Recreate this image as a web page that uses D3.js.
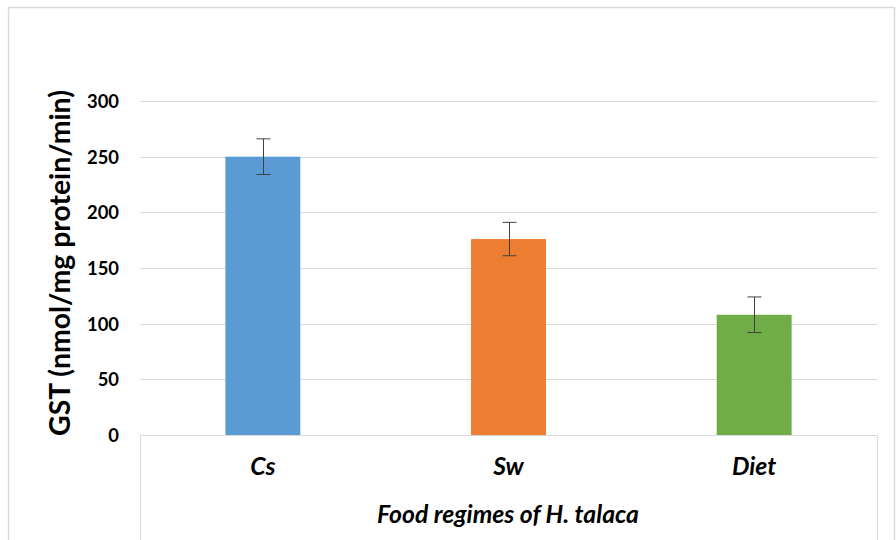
<!DOCTYPE html>
<html><head><meta charset="utf-8">
<script src="https://cdn.jsdelivr.net/npm/d3@7"></script>
<style>body{margin:0;background:#fff}svg{display:block}</style>
</head><body>
<svg id="c" width="896" height="540"></svg>
<script>
const categories = ["Cs", "Sw", "Diet"];
const values = [250, 176, 108];
const errors = [16, 15, 16];
const colors = ["#5B9BD5", "#ED7D31", "#70AD47"];
const yTicks = [0, 50, 100, 150, 200, 250, 300];
const yTitle = "GST (nmol/mg protein/min)";
const xTitle = "Food regimes of H. talaca";

const svg = d3.select("#c");
const font = "Lato, 'Open Sans', sans-serif";
const L = 140, R = 877, T = 101, B = 435;

function fit(sel, target) {
  const fs = parseFloat(sel.attr("font-size"));
  const w = sel.node().getComputedTextLength();
  const nf = fs * target / w;
  sel.attr("font-size", nf);
  return nf;
}

// outer border
svg.append("rect").attr("x", 8.5).attr("y", 7.5).attr("width", 886).attr("height", 540)
  .attr("fill", "#fff").attr("stroke", "#d9d9d9").attr("stroke-width", 1.5);

const x = d3.scaleBand().domain(categories).range([L, R]).paddingInner(0.695).paddingOuter(0.3475);
const y = d3.scaleLinear().domain([0, 300]).range([B, T]);

// gridlines
svg.append("g").selectAll("line").data(yTicks.filter(d => d > 0)).join("line")
  .attr("x1", L).attr("x2", R).attr("y1", d => Math.round(y(d)) + 0.5).attr("y2", d => Math.round(y(d)) + 0.5)
  .attr("stroke", "#d9d9d9").attr("stroke-width", 1);

// bottom box
svg.append("path").attr("d", `M${L + 0.5},540V${B + 0.5}H${R + 0.5}V540`)
  .attr("fill", "none").attr("stroke", "#d9d9d9").attr("stroke-width", 1);

// y axis labels
const probe = svg.append("text").attr("font-family", font).attr("font-weight", "bold").attr("font-size", 20).text("300");
const tickFs = fit(probe, 32);
probe.remove();
const yAxis = d3.axisLeft(y).tickValues(yTicks).tickSize(0).tickPadding(0);
const ga = svg.append("g").attr("transform", `translate(119,0)`).call(yAxis);
ga.select(".domain").remove();
ga.selectAll("text").attr("font-family", font).attr("font-weight", "bold").attr("font-size", tickFs).attr("fill", "#000").attr("dy", "0.36em");

// bars
svg.append("g").selectAll("rect").data(categories).join("rect")
  .attr("x", d => x(d)).attr("width", x.bandwidth())
  .attr("y", (d, i) => y(values[i])).attr("height", (d, i) => y(0) - y(values[i]))
  .attr("fill", (d, i) => colors[i]);

// error bars
const eg = svg.append("g").attr("stroke", "#404040").attr("stroke-width", 1);
categories.forEach((c, i) => {
  const cx = Math.round(x(c) + x.bandwidth() / 2) + 0.5;
  const y1 = y(values[i] + errors[i]), y2 = y(values[i] - errors[i]);
  eg.append("line").attr("x1", cx).attr("x2", cx).attr("y1", y1).attr("y2", y2);
  eg.append("line").attr("x1", cx - 7).attr("x2", cx + 7).attr("y1", y1).attr("y2", y1);
  eg.append("line").attr("x1", cx - 7).attr("x2", cx + 7).attr("y1", y2).attr("y2", y2);
});

// x title
const xt = svg.append("text").attr("x", 508).attr("y", 523).attr("text-anchor", "middle")
  .attr("font-family", font).attr("font-weight", "bold").attr("font-style", "italic")
  .attr("font-size", 20).text(xTitle);
const xFs = fit(xt, 262);

// x category labels
svg.append("g").selectAll("text").data(categories).join("text")
  .attr("x", d => x(d) + x.bandwidth() / 2).attr("y", 475)
  .attr("text-anchor", "middle").attr("font-family", font).attr("font-weight", "bold")
  .attr("font-style", "italic").attr("font-size", xFs).text(d => d);

// y title
const yt = svg.append("text").attr("transform", `translate(70,263) rotate(-90)`)
  .attr("text-anchor", "middle").attr("font-family", font).attr("font-weight", "bold")
  .attr("font-size", 24).text(yTitle);
fit(yt, 346);
</script>
</body></html>
